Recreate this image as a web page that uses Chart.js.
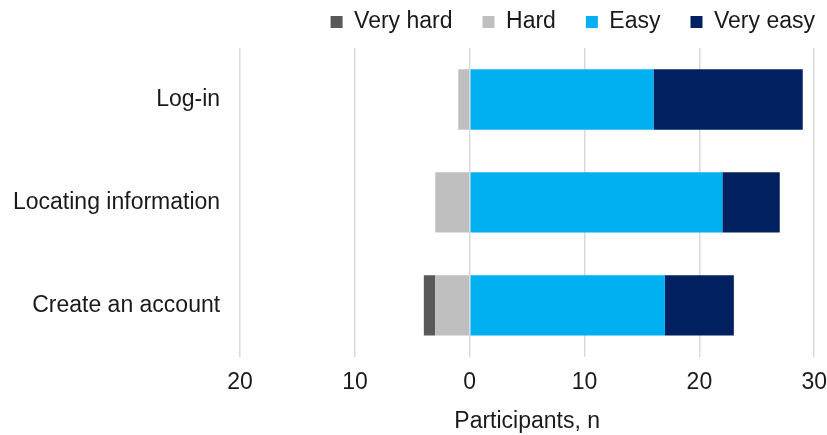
<!DOCTYPE html>
<html><head><meta charset="utf-8">
<script src="https://cdn.jsdelivr.net/npm/chart.js@4/dist/chart.umd.min.js"></script>
<style>html,body{margin:0;padding:0;background:#fff}#wrap{width:827px;height:435px}</style>
</head><body><div id="wrap"><canvas id="c"></canvas></div>
<script>
const categories = ["Log-in", "Locating information", "Create an account"];
const veryHard = [0, 0, -1];
const hard = [-1, -3, -3];
const easy = [16, 22, 17];
const veryEasy = [13, 5, 6];
const xTicks = [-20, -10, 0, 10, 20, 30];
const legendOrder = ["Very hard", "Hard", "Easy", "Very easy"];

const font = "'Liberation Sans', Arial, sans-serif";
Chart.defaults.font.family = font;
Chart.defaults.color = "#1a1a1a";
const FS = 23;

// adjust legend block height and drawing offset
const legendFix = {
  id: "legendFix",
  beforeInit(chart) {
    const lg = chart.legend;
    if (!lg) return;
    const fit = lg.fit.bind(lg);
    lg.fit = function () { fit(); this.height = 48; };
    const draw = lg._draw.bind(lg);
    lg._draw = function () {
      const t = this.top;
      this.top = t - 19.5;
      draw();
      this.top = t;
    };
  }
};

new Chart(document.getElementById("c"), {
  type: "bar",
  data: {
    labels: categories,
    datasets: [
      { label: "Hard", data: hard, backgroundColor: "#BFBFBF" },
      { label: "Very hard", data: veryHard, backgroundColor: "#595959" },
      { label: "Easy", data: easy, backgroundColor: "#00B0F0" },
      { label: "Very easy", data: veryEasy, backgroundColor: "#002060" }
    ]
  },
  plugins: [legendFix],
  options: {
    indexAxis: "y",
    responsive: true,
    maintainAspectRatio: false,
    animation: false,
    datasets: { bar: { categoryPercentage: 1, barPercentage: 0.586, borderWidth: 0 } },
    layout: { padding: { left: -7, right: -18, top: 0, bottom: 0 } },
    plugins: {
      tooltip: { enabled: false },
      legend: {
        position: "top",
        align: "end",
        labels: {
          boxWidth: 12, boxHeight: 12, padding: 30,
          font: { size: FS }, color: "#1a1a1a",
          sort: (a, b) => legendOrder.indexOf(a.text) - legendOrder.indexOf(b.text)
        }
      }
    },
    scales: {
      x: {
        stacked: true,
        min: -20, max: 30,
        afterBuildTicks: (ax) => { ax.ticks = xTicks.map(v => ({ value: v })); },
        ticks: { callback: (v) => Math.abs(v), font: { size: FS }, color: "#1a1a1a", padding: 0 },
        grid: { color: "#d9d9d9", lineWidth: 1.5, tickLength: 12, drawTicks: true, tickColor: "rgba(0,0,0,0)" },
        border: { display: false },
        title: { display: true, text: "Participants, n", font: { size: FS }, color: "#1a1a1a", padding: { top: 11, bottom: 0 } }
      },
      y: {
        stacked: true,
        ticks: { font: { size: FS }, color: "#1a1a1a", padding: 20 },
        grid: { display: false, drawTicks: false },
        border: { display: false }
      }
    }
  }
});
</script></body></html>
